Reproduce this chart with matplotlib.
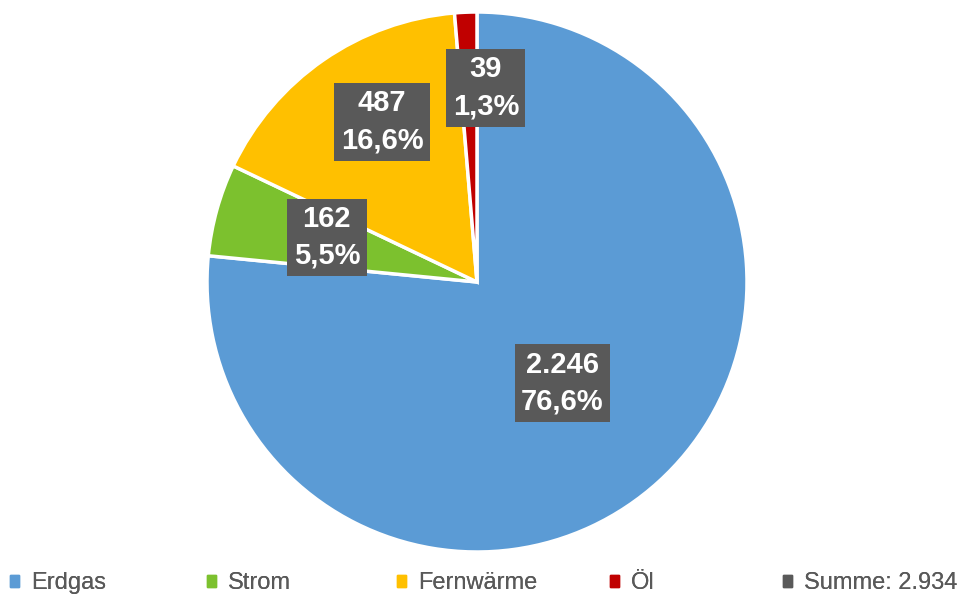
import matplotlib.pyplot as plt
import numpy as np
from matplotlib.patches import Patch

plt.rcParams['font.family'] = ['Liberation Sans', 'DejaVu Sans']

# Daten
kategorien = ["Erdgas", "Strom", "Fernwärme", "Öl"]
werte = [2246, 162, 487, 39]
farben = ["#5B9BD5", "#7CC12E", "#FFC000", "#C00000"]
summe = sum(werte)

# Abstand der Beschriftung vom Mittelpunkt (Anteil des Radius)
label_r = [0.49, 0.58, 0.69, 0.72]
label_dw = [-2, -1, -4, -5]  # Winkelkorrektur in Grad

fig = plt.figure(figsize=(9.63, 6.01), dpi=100)
cx, cy, r = 477, 282, 270
W, H = 963, 601
ax = fig.add_axes([(cx - r) / W, (H - cy - r) / H, 2 * r / W, 2 * r / H])

wedges, _ = ax.pie(werte, colors=farben, startangle=90, counterclock=False,
                   wedgeprops=dict(edgecolor="white", linewidth=2.5))
ax.set_xlim(-1, 1)
ax.set_ylim(-1, 1)
ax.set_aspect('equal')
ax.axis('off')

for w, v, lr, dw in zip(wedges, werte, label_r, label_dw):
    ang = np.deg2rad((w.theta1 + w.theta2) / 2 + dw)
    txt = "{:,}".format(v).replace(",", ".") + "\n" + \
        "{:.1f}%".format(100 * v / summe).replace(".", ",")
    ax.text(lr * np.cos(ang), lr * np.sin(ang), txt, ha="center", va="center",
            color="white", fontsize=21, fontweight="bold", linespacing=1.4,
            bbox=dict(boxstyle="square,pad=0.22", fc="#595959", ec="none"))

# Legende
namen = kategorien + ["Summe: " + "{:,}".format(summe).replace(",", ".")]
legfarben = farben + ["#595959"]
leg_x = [10, 207, 397, 610, 783]
for name, f, x in zip(namen, legfarben, leg_x):
    lg = fig.legend(handles=[Patch(color=f)], labels=[name], loc="center left",
                    bbox_to_anchor=(x / W, (H - 583) / H), frameon=False,
                    handlelength=0.4, handleheight=0.4, handletextpad=0.5,
                    borderpad=0, borderaxespad=0, fontsize=17, labelcolor="#595959")
    fig.add_artist(lg)

fig.savefig("out.png", dpi=100)
